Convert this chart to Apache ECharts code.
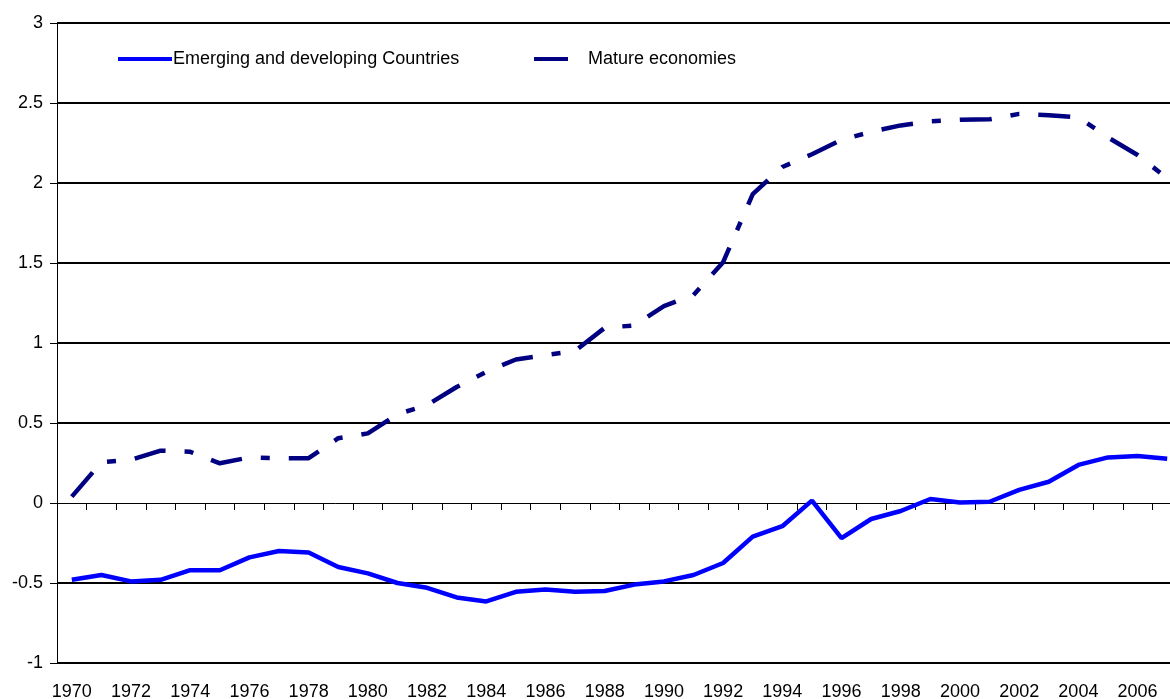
<!DOCTYPE html>
<html>
<head>
<meta charset="utf-8">
<style>
    html, body { margin: 0; padding: 0; background: #fff; }
    .chart { width: 1170px; height: 699px; }
</style>
<script src="https://cdn.jsdelivr.net/npm/echarts@6/dist/echarts.min.js"></script>
</head>
<body>
<div class="chart"></div>
<script>
var years = ['1970', '1971', '1972', '1973', '1974', '1975', '1976', '1977', '1978', '1979',
    '1980', '1981', '1982', '1983', '1984', '1985', '1986', '1987', '1988', '1989',
    '1990', '1991', '1992', '1993', '1994', '1995', '1996', '1997', '1998', '1999',
    '2000', '2001', '2002', '2003', '2004', '2005', '2006', '2007'];

var emerging = [-0.48, -0.45, -0.49, -0.48, -0.42, -0.42, -0.34, -0.30, -0.31, -0.40,
    -0.44, -0.50, -0.53, -0.59, -0.615, -0.555, -0.54, -0.555, -0.55, -0.51,
    -0.49, -0.45, -0.375, -0.21, -0.145, 0.015, -0.22, -0.10, -0.05, 0.025,
    0.003, 0.008, 0.082, 0.133, 0.238, 0.285, 0.294, 0.277];

var mature = [0.04, 0.255, 0.27, 0.327, 0.32, 0.248, 0.285, 0.28, 0.28, 0.405,
    0.435, 0.555, 0.612, 0.725, 0.82, 0.897, 0.925, 0.95, 1.095, 1.11,
    1.23, 1.30, 1.505, 1.93, 2.10, 2.18, 2.27, 2.32, 2.36, 2.385,
    2.395, 2.398, 2.432, 2.423, 2.41, 2.285, 2.175, 2.03];

var yTicks = { min: -1, max: 3, step: 0.5 };

// 趋势图
(function () {
    var myChart = echarts.init(document.getElementsByClassName('chart')[0]);
    var font = 'Liberation Sans, Arial, sans-serif';

    var option = {
        animation: false,
        backgroundColor: '#fff',
        textStyle: { fontFamily: font },
        legend: [
            {
                data: ['Emerging and developing Countries'],
                left: 113,
                top: 45,
                icon: 'rect',
                itemWidth: 54,
                itemHeight: 4,
                textStyle: { color: '#000', fontSize: 18, fontFamily: font, padding: [0, 0, 0, -4] }
            },
            {
                data: ['Mature economies'],
                left: 529,
                top: 45,
                icon: 'rect',
                itemWidth: 34,
                itemHeight: 4,
                textStyle: { color: '#000', fontSize: 18, fontFamily: font, padding: [0, 0, 0, 15] }
            }
        ],
        grid: {
            left: 57,
            top: 23,
            width: 1125,
            bottom: 36,
            containLabel: false,
            outerBoundsMode: 'none'
        },
        xAxis: [
            {
                // 0 线上的刻度
                type: 'category',
                data: years,
                boundaryGap: true,
                position: 'bottom',
                axisLine: {
                    show: true,
                    onZero: true,
                    lineStyle: { color: '#000', width: 1 }
                },
                axisTick: {
                    show: true,
                    interval: 0,
                    length: 7,
                    lineStyle: { color: '#000', width: 1 }
                },
                axisLabel: { show: false },
                splitLine: { show: false }
            },
            {
                // 底部年份
                type: 'category',
                data: years,
                boundaryGap: true,
                position: 'bottom',
                offset: 0,
                axisLine: { show: false, onZero: false },
                axisTick: { show: false },
                axisLabel: {
                    show: true,
                    interval: 1,
                    margin: 20,
                    color: '#000',
                    fontSize: 18,
                    fontFamily: font
                },
                splitLine: { show: false }
            }
        ],
        yAxis: {
            type: 'value',
            min: yTicks.min,
            max: yTicks.max,
            interval: yTicks.step,
            axisLine: {
                show: true,
                lineStyle: { color: '#000', width: 1 }
            },
            axisTick: {
                show: true,
                length: 7,
                lineStyle: { color: '#000', width: 1 }
            },
            axisLabel: {
                margin: 14,
                color: '#000',
                fontSize: 18,
                fontFamily: font
            },
            splitLine: {
                lineStyle: {
                    // 0 线由 x 轴画出
                    color: ['#000', '#000', 'rgba(0,0,0,0)', '#000', '#000', '#000', '#000', '#000', '#000'],
                    width: 2
                }
            }
        },
        series: [
            {
                name: 'Emerging and developing Countries',
                type: 'line',
                data: emerging,
                symbol: 'none',
                color: '#0000ff',
                lineStyle: { color: '#0000ff', width: 4.5 },
                z: 3
            },
            {
                name: 'Mature economies',
                type: 'line',
                data: mature,
                symbol: 'none',
                color: '#000080',
                lineStyle: {
                    color: '#000080',
                    width: 4.5,
                    type: [32, 19, 9, 19],
                    cap: 'butt'
                },
                z: 3
            }
        ]
    };

    myChart.setOption(option);

    window.addEventListener('resize', function () {
        myChart.resize();
    });
})();
</script>
</body>
</html>
